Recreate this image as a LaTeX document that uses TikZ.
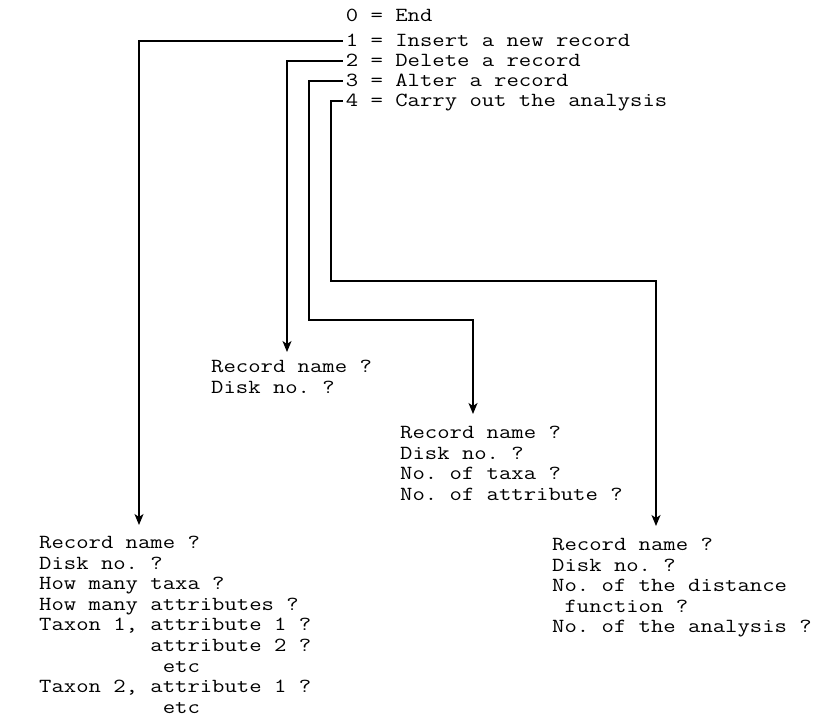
\documentclass[tikz,border=0pt]{standalone}
\usepackage{fontspec}
\newfontfamily\twfont{Latin Modern Mono}[FakeStretch=1.2]
\usetikzlibrary{arrows.meta}
\begin{document}
\begin{tikzpicture}[x=1pt,y=-1pt,
  txt/.style={inner sep=0pt, font={\twfont\fontsize{20}{20.6}\selectfont\frenchspacing}},
  menuitem/.style={txt, anchor=base west},
  block/.style={txt, anchor=north west, align=left},
  conn/.style={line width=1.6pt, -{Stealth[length=11pt,width=9pt,inset=3pt]}}
]
\useasboundingbox (0,0) rectangle (824,726);

% menu
\node[menuitem] (m0) at (345.7,21.5) {0 = End};
\node[menuitem] (m1) at (345.7,46.2) {1 = Insert a new record};
\node[menuitem] (m2) at (345.7,66.5) {2 = Delete a record};
\node[menuitem] (m3) at (345.7,86.5) {3 = Alter a record};
\node[menuitem] (m4) at (345.7,106.2) {4 = Carry out the analysis};

% answer blocks
\node[block] (b1) at (39,536) {Record name ?\\Disk no. ?\\How many taxa ?\\How many attributes ?\\Taxon 1, attribute 1 ?\\\hphantom{Taxon 1,x}attribute 2 ?\\\hphantom{Taxon 1,xx}etc\\Taxon 2, attribute 1 ?\\\hphantom{Taxon 1,xx}etc};
\node[block] (b2) at (211,360) {Record name ?\\Disk no. ?};
\node[block] (b3) at (400,426) {Record name ?\\Disk no. ?\\No. of taxa ?\\No. of attribute ?};
\node[block] (b4) at (552,538) {Record name ?\\Disk no. ?\\No. of the distance\\\hphantom{x}function ?\\No. of the analysis ?};

% connectors
\draw[conn] ([shift={(-3,-5.5)}]m1.base west) -| ([shift={(100,-11)}]b1.north west);
\draw[conn] ([shift={(-3,-5.5)}]m2.base west) -| ([shift={(76,-8)}]b2.north west);
\draw[conn] ([shift={(-3,-5.5)}]m3.base west) -| (309,320) -| ([shift={(73,-12)}]b3.north west);
\draw[conn] ([shift={(-3,-5.5)}]m4.base west) -| (331,281) -| ([shift={(104,-12)}]b4.north west);
\end{tikzpicture}
\end{document}
